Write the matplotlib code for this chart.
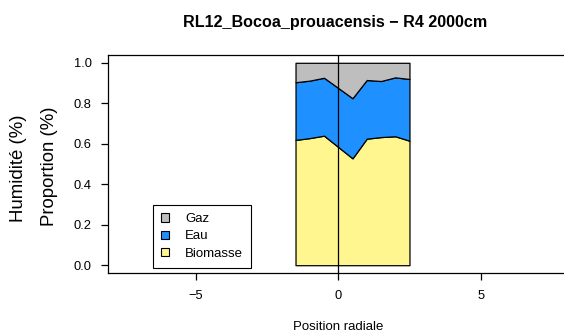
import matplotlib
matplotlib.use("Agg")
import matplotlib.pyplot as plt
from matplotlib.patches import Patch

plt.rcParams['font.family'] = ['Liberation Sans', 'DejaVu Sans']

# radial positions and cumulative proportions (stacked)
position = [-1.5, -1.0, -0.5, 0.5, 1.0, 1.5, 2.0, 2.5]
biomasse = [0.619, 0.628, 0.640, 0.528, 0.625, 0.633, 0.637, 0.615]
eau_top = [0.904, 0.912, 0.926, 0.825, 0.915, 0.910, 0.928, 0.920]
gaz_top = [1.0, 1.0, 1.0, 1.0, 1.0, 1.0, 1.0, 1.0]

legend_labels = ['Gaz', 'Eau', 'Biomasse']
col_gaz = '#bebebe'
col_eau = '#1e90ff'
col_bio = '#fff68f'

W, H = 564, 334
fig = plt.figure(figsize=(W / 100, H / 100), dpi=100)

left, right, top, bottom = 107.5, 569, 54.7, 273.3
ax = fig.add_axes([left / W, 1 - bottom / H, (right - left) / W, (bottom - top) / H])

lw = 0.9
ax.fill_between(position, 0, biomasse, facecolor=col_bio, edgecolor='black', linewidth=lw)
ax.fill_between(position, biomasse, eau_top, facecolor=col_eau, edgecolor='black', linewidth=lw)
ax.fill_between(position, eau_top, gaz_top, facecolor=col_gaz, edgecolor='black', linewidth=lw)
ax.axvline(0, color='black', linewidth=lw)

ax.set_xlim(-8.1, 8.1)
ax.set_ylim(-0.04, 1.04)
ax.set_xticks([-5, 0, 5])
ax.set_xticklabels(['\u22125', '0', '5'])
ax.set_yticks([0, 0.2, 0.4, 0.6, 0.8, 1.0])
ax.set_yticklabels(['0.0', '0.2', '0.4', '0.6', '0.8', '1.0'])
ax.tick_params(direction='out', length=5.3, width=lw, labelsize=9.3, color='black')
ax.tick_params(axis='x', pad=7)
ax.tick_params(axis='y', pad=6)
for s in ax.spines.values():
    s.set_linewidth(lw)
    s.set_color('black')

handles = [Patch(facecolor=c, edgecolor='black', linewidth=0.8)
           for c in (col_gaz, col_eau, col_bio)]
leg = ax.legend(handles, legend_labels, loc='upper left',
                bbox_to_anchor=(153 / W, 1 - 205 / H), bbox_transform=fig.transFigure,
                borderaxespad=0, fancybox=False, framealpha=1, fontsize=9.5,
                handlelength=0.6, handleheight=0.6, handletextpad=1.2,
                labelspacing=0.4, borderpad=0.62)
leg.get_frame().set_edgecolor('black')
leg.get_frame().set_linewidth(0.8)

fig.text(335 / W, 1 - 23 / H, 'RL12_Bocoa_prouacensis \u2212 R4 2000cm',
         ha='center', va='center', fontsize=11.6, fontweight='bold')
fig.text(338 / W, 1 - 327 / H, 'Position radiale', ha='center', va='center', fontsize=9.5)
fig.text(19 / W, 1 - 168 / H, 'Humidit\u00e9 (%)', ha='center', va='center',
         rotation=90, fontsize=13.4)
fig.text(49.5 / W, 1 - 166 / H, 'Proportion (%)', ha='center', va='center',
         rotation=90, fontsize=13.4)

fig.savefig('out.png', dpi=100)
